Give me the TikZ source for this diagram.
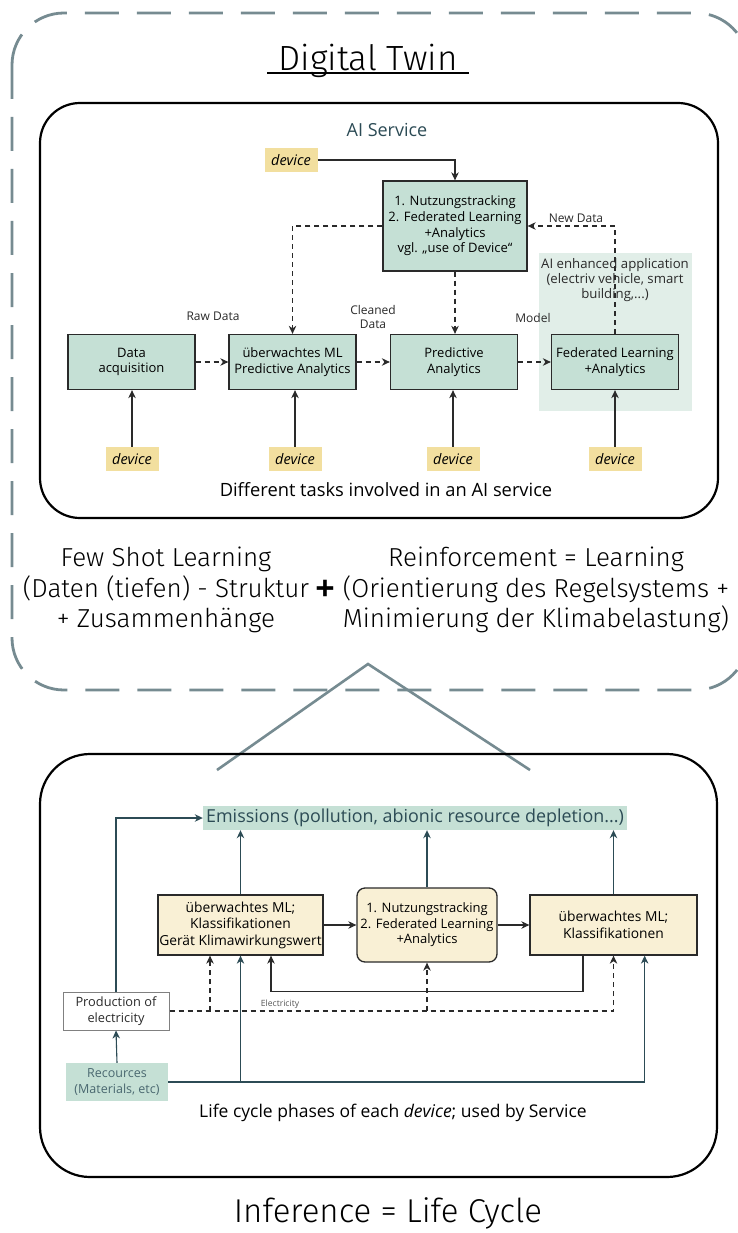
\documentclass[tikz,border=0pt]{standalone}
\usepackage{fontspec}
\setmainfont{Open Sans}
\IfFontExistsTF{Fira Sans Light}
  {\newfontfamily\headfont{Fira Sans Light}}
  {\newfontfamily\headfont{Fira Sans}}
\usetikzlibrary{arrows.meta}

\definecolor{mint}{HTML}{C5E0D5}
\definecolor{appbgc}{HTML}{E1EEE8}
\definecolor{devyel}{HTML}{F2DF9F}
\definecolor{lifeyel}{HTML}{F9F0D5}
\definecolor{boxline}{HTML}{2A2A2A}
\definecolor{tealdark}{HTML}{2C4B55}
\definecolor{outgray}{HTML}{768B91}
\definecolor{restext}{HTML}{4A6870}

\begin{document}
\begin{tikzpicture}[x=1pt,y=-1pt,
  every node/.style={inner sep=0pt},
  fs/.style={font=\fontsize{#1}{#1}\selectfont},
  tip/.style={-{Stealth[length=8pt,width=7.5pt,inset=2.5pt]}},
  solidarr/.style={tip,line width=1.1pt,draw=boxline},
  dasharr/.style={tip,line width=1.1pt,draw=boxline,dash pattern=on 5pt off 4pt},
  tealarr/.style={tip,line width=1.1pt,draw=tealdark},
  taskbox/.style={draw=boxline,fill=mint,line width=1.3pt,minimum width=127pt,
    minimum height=55pt,align=center,font=\fontsize{13}{15.7}\selectfont},
  lifebox/.style={draw=boxline,fill=lifeyel,line width=1.3pt,minimum height=60pt,
    align=center,font=\fontsize{13.8}{16.5}\selectfont},
  dev/.style={fill=devyel,minimum width=53pt,minimum height=24pt,
    font=\fontsize{14.5}{15}\selectfont\itshape},
  smalllabel/.style={font=\fontsize{12}{14}\selectfont,text=boxline,align=center},
  frame/.style={draw=outgray,line width=2.8pt,dash pattern=on 34pt off 18pt,rounded corners=52pt},
  panel/.style={draw=black,line width=2.2pt},
  midtext/.style={align=center,font=\headfont\fontsize{26}{30.5}\selectfont}
]
\useasboundingbox (0,0) rectangle (738,1233);
\clip (0,0) rectangle (738,1233);
\fill[white] (0,0) rectangle (738,1233);

% dashed frame of the digital twin
\draw[frame] (12,13) rectangle (748,690);

% title
\node[anchor=base,font=\headfont\fontsize{35}{40}\selectfont] (title) at (368,71) {Digital Twin};
\draw[line width=1.4pt] ([xshift=-11pt,yshift=-2pt]title.base west) -- ([xshift=11pt,yshift=-2pt]title.base east);

% ---------------- AI service panel ----------------
\draw[panel,rounded corners=40pt] (40,103) rectangle (718,518);
\node[fs=18,text=tealdark] (aititle) at (387,130) {AI Service};

% background of the enhanced application
\node[fill=appbgc,minimum width=153pt,minimum height=158pt] (appbg) at (615.5,332) {};
\node[smalllabel,font=\fontsize{13.2}{15.2}\selectfont] (apptext) at (615,280)
  {AI enhanced application\\(electriv vehicle, smart\\building,...)};

\node[taskbox,minimum width=144pt,minimum height=90pt] (nutz) at (455,226)
  {1. Nutzungstracking\\2. Federated Learning\\+Analytics\\vgl. „use of Device“};
\node[dev] (devtop) at (291,160) {device};

\node[taskbox] (acq)  at (131.5,362) {Data\\acquisition};
\node[taskbox] (uml)  at (292.5,362) {überwachtes ML\\Predictive Analytics};
\node[taskbox] (pred) at (454,362) {Predictive\\Analytics};
\node[taskbox] (fl)   at (615,362) {Federated Learning\\+Analytics};

\node[dev] (dev1) at (132,459) {device};
\node[dev] (dev2) at (295,459) {device};
\node[dev] (dev3) at (453,459) {device};
\node[dev] (dev4) at (615,459) {device};

\draw[solidarr] (devtop.east) -| (nutz.north);
\draw[dasharr] (nutz.west) -| (uml.north);
\draw[dasharr] (nutz.south) -- (nutz.south |- pred.north);
\draw[dasharr] (fl.north) |- (nutz.east);

\draw[dasharr] (acq.east) -- (uml.west);
\draw[dasharr] (uml.east) -- (pred.west);
\draw[dasharr] (pred.east) -- (fl.west);

\draw[solidarr] (dev1.north) -- (dev1.north |- acq.south);
\draw[solidarr] (dev2.north) -- (dev2.north |- uml.south);
\draw[solidarr] (dev3.north) -- (dev3.north |- pred.south);
\draw[solidarr] (dev4.north) -- (dev4.north |- fl.south);

\node[smalllabel] (lraw)   at (213,316) {Raw Data};
\node[smalllabel] (lclean) at (373,317) {Cleaned\\Data};
\node[smalllabel] (lmodel) at (533,318) {Model};
\node[smalllabel] (lnew)   at (576,218) {New Data};

\node[fs=18.3] (aicap) at (386,490) {Different tasks involved in an AI service};

% ---------------- learning approaches ----------------
\node[midtext] (fsl) at (166,590) {Few Shot Learning\\(Daten (tiefen) - Struktur\\+ Zusammenhänge};
\node[font=\bfseries\fontsize{34}{34}\selectfont] (plus) at (325,590) {+};
\node[midtext] (rl) at (536,590) {Reinforcement = Learning\\(Orientierung des Regelsystems +\\Minimierung der Klimabelastung)};

% roof linking the two panels
\draw[draw=outgray,line width=2.6pt] (217,770) -- (368,664) -- (530,770);

% ---------------- life cycle panel ----------------
\draw[panel,rounded corners=50pt] (40,754) rectangle (717,1177);

\node[fill=mint,text=tealdark,fs=17.9,minimum width=424pt,minimum height=24pt] (emis) at (415,818)
  {Emissions (pollution, abionic resource depletion...)};

\node[lifebox,minimum width=165pt] (b1) at (240.5,925) {überwachtes ML;\\Klassifikationen\\Gerät Klimawirkungswert};
\node[lifebox,minimum width=140pt,minimum height=74pt,rounded corners=8pt,
  font=\fontsize{13}{15.5}\selectfont] (b2) at (427,925)
  {1. Nutzungstracking\\2. Federated Learning\\+Analytics};
\node[lifebox,minimum width=167pt] (b3) at (613.5,925) {überwachtes ML;\\Klassifikationen};

\node[draw=gray,line width=1pt,fill=white,minimum width=106pt,minimum height=38pt,align=center,
  font=\fontsize{12.8}{16}\selectfont,text=boxline] (prod) at (116,1011) {Production of\\electricity};
\node[fill=mint,minimum width=102pt,minimum height=38pt,align=center,
  font=\fontsize{12.5}{16}\selectfont,text=restext] (res) at (117,1082) {Recources\\(Materials, etc)};

\draw[solidarr] (b1.east) -- (b2.west);
\draw[solidarr] (b2.east) -- (b3.west);

\draw[tealarr] (b1.north) -- (b1.north |- emis.south);
\draw[tealarr] (b2.north) -- (b2.north |- emis.south);
\draw[tealarr] (b3.north) -- (b3.north |- emis.south);
\draw[tealarr] (res.north) -- (prod.south);
\draw[tealarr] (prod.north) |- (emis.west);
\draw[tealarr] (res.east) -| ([xshift=-53pt]b3.south east);
\draw[tealarr] (b1.south |- res.east) -- (b1.south);

\draw[solidarr] ([xshift=-30.5pt]b3.south) -- ++(0,36) -| ([xshift=30.5pt]b1.south);

\draw[dasharr] (prod.east) -| (b3.south);
\draw[dasharr] ([xshift=-30.5pt]b1.south |- prod.east) -- ([xshift=-30.5pt]b1.south);
\draw[dasharr] (b2.south |- prod.east) -- (b2.south);
\node[font=\fontsize{8.6}{9}\selectfont,text=boxline!80] (lelec) at (280,1004) {Electricity};

\node[fs=17.5] (lifecap) at (393,1113) {Life cycle phases of each \textit{device}; used by Service};

\node[font=\headfont\fontsize{33}{36}\selectfont] (inference) at (388,1213) {Inference = Life Cycle};
\end{tikzpicture}
\end{document}
